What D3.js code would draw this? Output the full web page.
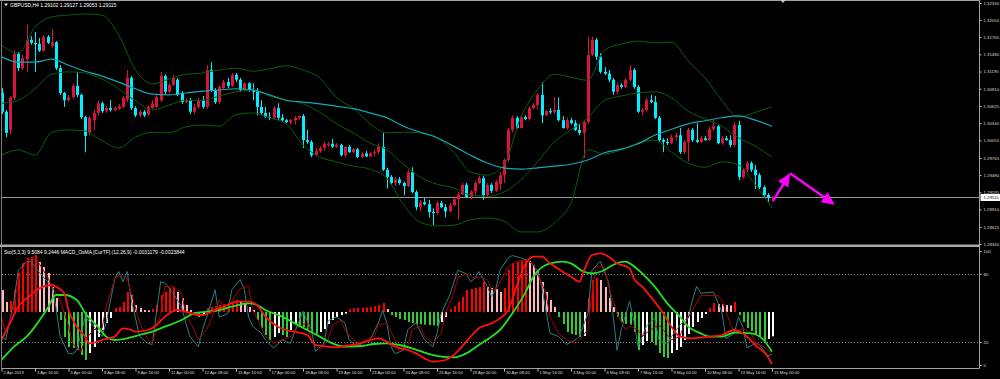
<!DOCTYPE html>
<html>
<head>
<meta charset="utf-8">
<script src="https://cdn.jsdelivr.net/npm/d3@7"></script>
<style>
  body { margin: 0; background: #000; }
  svg { display: block; }
</style>
</head>
<body>
<div id="chart"></div>
<script>
// GBPUSD H4, 2 Apr 08:00 .. 15 May 00:00 (185 bars)
const opens = [
  1.3084,1.3053,1.3023,1.3076,1.3149,1.3125,1.3140,1.3172,1.3167,1.3165,
  1.3154,1.3177,1.3162,1.3168,1.3125,1.3084,1.3072,1.3077,1.3096,1.3081,
  1.3044,1.3018,1.3039,1.3051,1.3067,1.3054,1.3059,1.3056,1.3058,1.3061,
  1.3073,1.3109,1.3059,1.3047,1.3053,1.3049,1.3059,1.3061,1.3072,1.3112,
  1.3086,1.3097,1.3106,1.3084,1.3069,1.3072,1.3053,1.3061,1.3071,1.3061,
  1.3122,1.3089,1.3069,1.3092,1.3102,1.3096,1.3114,1.3106,1.3089,1.3100,
  1.3089,1.3086,1.3061,1.3051,1.3044,1.3043,1.3059,1.3043,1.3039,1.3036,
  1.3039,1.3043,1.3046,1.3006,1.3003,1.2981,1.2988,1.2993,1.2998,1.3000,
  1.2995,1.2998,1.2981,1.2995,1.2986,1.2991,1.2978,1.2984,1.2979,1.2984,
  1.2986,1.2995,1.2957,1.2945,1.2935,1.2941,1.2935,1.2930,1.2953,1.2920,
  1.2895,1.2903,1.2900,1.2887,1.2885,1.2902,1.2895,1.2888,1.2898,1.2908,
  1.2916,1.2932,1.2912,1.2921,1.2935,1.2943,1.2915,1.2932,1.2922,1.2933,
  1.2948,1.2973,1.3023,1.3043,1.3026,1.3044,1.3041,1.3059,1.3064,1.3081,
  1.3047,1.3054,1.3052,1.3056,1.3039,1.3026,1.3039,1.3034,1.3023,1.3018,
  1.3036,1.3147,1.3172,1.3144,1.3119,1.3116,1.3106,1.3086,1.3097,1.3094,
  1.3106,1.3122,1.3094,1.3053,1.3056,1.3072,1.3069,1.3043,1.3006,1.3003,
  1.3001,1.3011,1.3014,1.2986,1.3003,1.3023,1.3006,1.3003,1.3009,1.3006,
  1.3024,1.3029,1.3001,1.3009,1.3006,1.2998,1.3031,1.2945,1.2957,1.2968,
  1.2957,1.2948,1.2928,1.2915,1.29102
];
const highs = [
  1.3092,1.3056,1.3079,1.3155,1.3152,1.3147,1.3197,1.3178,1.3185,1.3175,
  1.3180,1.3180,1.3190,1.3170,1.3130,1.3086,1.3081,1.3099,1.3119,1.3083,
  1.3046,1.3046,1.3056,1.3072,1.3070,1.3062,1.3072,1.3061,1.3066,1.3079,
  1.3122,1.3112,1.3062,1.3056,1.3056,1.3064,1.3072,1.3081,1.3119,1.3115,
  1.3100,1.3114,1.3109,1.3087,1.3076,1.3076,1.3066,1.3076,1.3079,1.3130,
  1.3135,1.3092,1.3097,1.3106,1.3109,1.3117,1.3117,1.3109,1.3102,1.3102,
  1.3100,1.3092,1.3072,1.3061,1.3052,1.3062,1.3067,1.3049,1.3041,1.3041,
  1.3046,1.3047,1.3049,1.3023,1.3006,1.2993,1.2996,1.3003,1.3003,1.3008,
  1.3001,1.3000,1.2996,1.2998,1.2993,1.2993,1.2986,1.2988,1.2986,1.2990,
  1.3001,1.3018,1.2960,1.2948,1.2945,1.2945,1.2937,1.2957,1.2961,1.2923,
  1.2907,1.2910,1.2907,1.2893,1.2905,1.2905,1.2900,1.2902,1.2912,1.2920,
  1.2935,1.2935,1.2923,1.2938,1.2947,1.2947,1.2935,1.2935,1.2940,1.2953,
  1.2976,1.3026,1.3047,1.3046,1.3047,1.3047,1.3062,1.3067,1.3084,1.3102,
  1.3056,1.3059,1.3077,1.3077,1.3046,1.3043,1.3043,1.3039,1.3033,1.3039,
  1.3177,1.3177,1.3175,1.3150,1.3127,1.3122,1.3109,1.3100,1.3100,1.3109,
  1.3130,1.3125,1.3097,1.3059,1.3076,1.3081,1.3079,1.3046,1.3009,1.3009,
  1.3015,1.3018,1.3026,1.3006,1.3026,1.3026,1.3034,1.3013,1.3013,1.3028,
  1.3039,1.3031,1.3013,1.3013,1.3014,1.3036,1.3038,1.2960,1.2971,1.2971,
  1.2965,1.2951,1.2931,1.2918,1.29127
];
const lows = [
  1.3049,1.3011,1.3016,1.3072,1.3120,1.3122,1.3119,1.3164,1.3119,1.3152,
  1.3152,1.3165,1.3158,1.3122,1.3081,1.3061,1.3069,1.3075,1.3077,1.3041,
  1.2986,1.3014,1.3023,1.3047,1.3051,1.3051,1.3053,1.3054,1.3056,1.3059,
  1.3069,1.3056,1.3044,1.3044,1.3044,1.3046,1.3057,1.3059,1.3069,1.3082,
  1.3084,1.3096,1.3079,1.3066,1.3067,1.3049,1.3049,1.3058,1.3058,1.3058,
  1.3086,1.3066,1.3066,1.3091,1.3092,1.3094,1.3102,1.3086,1.3087,1.3086,
  1.3072,1.3047,1.3047,1.3043,1.3039,1.3039,1.3039,1.3036,1.3034,1.3032,
  1.3032,1.3039,1.2993,1.3000,1.2978,1.2979,1.2985,1.2988,1.2995,1.2993,
  1.2993,1.2979,1.2978,1.2985,1.2984,1.2976,1.2976,1.2978,1.2978,1.2979,
  1.2983,1.2955,1.2926,1.2932,1.2930,1.2932,1.2915,1.2928,1.2918,1.2890,
  1.2888,1.2898,1.2878,1.2865,1.2883,1.2893,1.2878,1.2887,1.2897,1.2874,
  1.2915,1.2910,1.2908,1.2915,1.2933,1.2907,1.2913,1.2918,1.2920,1.2923,
  1.2935,1.2970,1.3019,1.3025,1.3025,1.3039,1.3038,1.3057,1.3057,1.3034,
  1.3046,1.3049,1.3049,1.3037,1.3025,1.3023,1.3032,1.3021,1.3014,1.2976,
  1.3033,1.3145,1.3139,1.3116,1.3114,1.3102,1.3081,1.3081,1.3091,1.3092,
  1.3104,1.3091,1.3051,1.3047,1.3053,1.3067,1.3041,1.3003,1.2986,1.2998,
  1.2999,1.3005,1.2983,1.2983,1.2971,1.3003,1.3001,1.3001,1.3005,1.3005,
  1.3021,1.2999,1.2998,1.3005,1.2994,1.2994,1.2940,1.2942,1.2953,1.2953,
  1.2925,1.2925,1.2910,1.2904,1.29053
];
const closes = [
  1.3053,1.3018,1.3076,1.3149,1.3125,1.3142,1.3172,1.3167,1.3165,1.3154,
  1.3177,1.3167,1.3168,1.3125,1.3084,1.3072,1.3077,1.3096,1.3081,1.3044,
  1.3013,1.3043,1.3051,1.3067,1.3054,1.3059,1.3056,1.3059,1.3062,1.3076,
  1.3109,1.3059,1.3047,1.3053,1.3047,1.3061,1.3067,1.3077,1.3112,1.3086,
  1.3097,1.3109,1.3081,1.3069,1.3072,1.3053,1.3061,1.3071,1.3061,1.3122,
  1.3089,1.3069,1.3094,1.3102,1.3096,1.3114,1.3106,1.3089,1.3100,1.3089,
  1.3086,1.3061,1.3051,1.3044,1.3043,1.3059,1.3043,1.3039,1.3036,1.3039,
  1.3043,1.3046,1.3006,1.3003,1.2981,1.2988,1.2993,1.3000,1.3000,1.2995,
  1.2998,1.2981,1.2995,1.2986,1.2991,1.2978,1.2984,1.2979,1.2984,1.2986,
  1.2995,1.2957,1.2945,1.2935,1.2941,1.2935,1.2930,1.2953,1.2920,1.2895,
  1.2903,1.2900,1.2887,1.2885,1.2902,1.2895,1.2888,1.2898,1.2908,1.2916,
  1.2932,1.2912,1.2921,1.2935,1.2943,1.2915,1.2932,1.2922,1.2937,1.2948,
  1.2973,1.3023,1.3043,1.3026,1.3044,1.3041,1.3059,1.3064,1.3081,1.3047,
  1.3054,1.3052,1.3056,1.3039,1.3026,1.3039,1.3034,1.3023,1.3018,1.3036,
  1.3147,1.3172,1.3144,1.3119,1.3116,1.3106,1.3086,1.3097,1.3094,1.3106,
  1.3122,1.3094,1.3053,1.3056,1.3072,1.3069,1.3043,1.3006,1.3003,1.3001,
  1.3011,1.3014,1.2986,1.3003,1.3023,1.3006,1.3003,1.3009,1.3006,1.3024,
  1.3029,1.3001,1.3009,1.3006,1.2998,1.3031,1.2945,1.2957,1.2968,1.2957,
  1.2948,1.2928,1.2915,1.29102,1.29115
];

// Bollinger bands and moving average, read every 4th bar
const bandBars = d3.range(0, 185, 4);
const bbUpper = [1.3163,1.3150,1.3193,1.3210,1.3213,1.3215,1.3213,1.3180,1.3122,1.3099,1.3107,1.3115,1.3117,1.3122,1.3125,1.3120,1.3124,1.3129,1.3122,1.3109,1.3076,1.3059,1.3033,1.3018,1.3019,1.3018,1.3010,1.2986,1.2953,1.2948,1.2965,1.3044,1.3089,1.3115,1.3110,1.3105,1.3155,1.3165,1.3170,1.3167,1.3168,1.3137,1.3109,1.3072,1.3044,1.3052,1.3061];
const bbMiddle = [1.3067,1.3072,1.3091,1.3115,1.3119,1.3117,1.3107,1.3091,1.3071,1.3056,1.3064,1.3072,1.3072,1.3079,1.3086,1.3089,1.3079,1.3072,1.3066,1.3052,1.3033,1.3018,1.3001,1.2990,1.2966,1.2945,1.2933,1.2927,1.2915,1.2913,1.2920,1.2940,1.2970,1.3003,1.3023,1.3043,1.3072,1.3079,1.3084,1.3086,1.3076,1.3054,1.3041,1.3029,1.3010,1.2996,1.2978];
const bbLower = [1.2981,1.2990,1.2981,1.3019,1.3023,1.3021,1.3005,1.2993,1.3011,1.3019,1.3018,1.3028,1.3031,1.3029,1.3048,1.3051,1.3043,1.3033,1.2998,1.2978,1.2970,1.2963,1.2958,1.2943,1.2899,1.2870,1.2864,1.2865,1.2874,1.2877,1.2872,1.2854,1.2854,1.2869,1.2902,1.2990,1.2983,1.2990,1.3001,1.3006,1.2986,1.2968,1.2961,1.2970,1.2965,1.2932,1.2894];
const maLine = [1.3144,1.3135,1.3135,1.3140,1.3130,1.3120,1.3112,1.3102,1.3091,1.3082,1.3081,1.3084,1.3087,1.3089,1.3091,1.3089,1.3081,1.3072,1.3069,1.3066,1.3062,1.3058,1.3051,1.3043,1.3029,1.3019,1.3010,1.2996,1.2981,1.2968,1.2960,1.2958,1.2960,1.2963,1.2966,1.2973,1.2985,1.2991,1.3000,1.3014,1.3024,1.3033,1.3038,1.3043,1.3046,1.3039,1.3029];

const priceTicks = [1.32330,1.32050,1.31765,1.31480,1.31195,1.30910,1.30625,1.30340,1.30055,1.29765,1.29480,1.29195,1.28910,1.28625,1.28340];
const lastPrice = 1.29115;

const labelBars = d3.range(0, 185, 8);
const timeLabels = ["2 Apr 2019","3 Apr 16:00","5 Apr 00:00","8 Apr 08:00","9 Apr 16:00","11 Apr 00:00","12 Apr 08:00","15 Apr 16:00","17 Apr 00:00","18 Apr 08:00","19 Apr 16:00","23 Apr 00:00","24 Apr 08:00","25 Apr 16:00","29 Apr 00:00","30 Apr 08:00","1 May 16:00","3 May 00:00","6 May 08:00","7 May 16:00","9 May 00:00","10 May 08:00","13 May 16:00","15 May 00:00"];

// MACD_OsMA histogram, one value per bar
const osmaBefore = 0.00080;
const osma = [
  0.00066,0.00030,0.00033,0.00066,0.00117,0.00147,0.00162,0.00165,0.00171,0.00150,
  0.00135,0.00117,0.00075,0.00042,-0.00024,-0.00075,-0.00105,-0.00108,-0.00114,-0.00129,
  -0.00144,-0.00123,-0.00105,-0.00075,-0.00054,-0.00033,-0.00018,0.00012,0.00015,0.00030,
  0.00060,0.00051,0.00021,0.00012,0.00006,0.00005,0.00009,0.00021,0.00051,0.00060,
  0.00072,0.00075,0.00060,0.00042,0.00021,0.00006,-0.00009,-0.00015,-0.00009,0.00012,
  0.00015,0.00017,0.00021,0.00024,0.00027,0.00030,0.00036,0.00030,0.00024,0.00015,
  0.00006,-0.00024,-0.00048,-0.00069,-0.00084,-0.00075,-0.00063,-0.00069,-0.00075,-0.00054,
  -0.00036,-0.00039,-0.00045,-0.00054,-0.00060,-0.00066,-0.00060,-0.00051,-0.00036,-0.00024,
  -0.00015,-0.00009,-0.00005,0.00009,0.00011,0.00012,0.00013,0.00014,0.00015,0.00018,
  0.00021,0.00027,0.00009,-0.00009,-0.00015,-0.00021,-0.00024,-0.00030,-0.00033,-0.00036,
  -0.00037,-0.00038,-0.00039,-0.00040,-0.00042,-0.00030,-0.00015,0.00009,0.00018,0.00030,
  0.00045,0.00066,0.00069,0.00072,0.00075,0.00090,0.00075,0.00072,0.00069,0.00060,
  0.00072,0.00126,0.00147,0.00150,0.00156,0.00159,0.00153,0.00141,0.00126,0.00090,
  0.00060,0.00036,0.00015,-0.00015,-0.00036,-0.00060,-0.00066,-0.00069,-0.00075,-0.00072,
  0.00042,0.00096,0.00102,0.00096,0.00075,0.00042,0.00015,-0.00015,-0.00030,-0.00036,
  -0.00038,-0.00060,-0.00114,-0.00099,-0.00087,-0.00090,-0.00099,-0.00123,-0.00135,-0.00138,
  -0.00123,-0.00114,-0.00105,-0.00084,-0.00066,-0.00045,-0.00030,-0.00018,-0.00006,0.00012,
  0.00027,0.00024,0.00023,0.00021,0.00020,0.00030,-0.00009,-0.00030,-0.00048,-0.00057,
  -0.00066,-0.00075,-0.00086,-0.00081,-0.00073
];

// MACD and signal lines of MACD_OsMA, read at selected bars
const macdBars = [0,2,4,7,9,12,13,15,16,18,20,21,23,24,27,29,31,32,35,37,39,42,44,47,48,51,54,56,59,61,63,66,68,70,73,75,78,80,82,85,87,90,92,94,97,99,101,103,106,108,111,114,117,119,121,123,125,127,129,131,134,136,138,139,141,143,145,147,150,151,153,155,158,160,162,165,169,172,175,177,180,183,184];
const macdVals = [-0.00168,-0.00068,0.00032,0.00102,0.00142,0.00162,0.00152,0.00112,0.00012,-0.00088,-0.00148,-0.00188,-0.00178,-0.00168,-0.00148,-0.00098,-0.00108,-0.00118,-0.00108,-0.00078,-0.00028,0.00012,0.00002,-0.00018,-0.00018,0.00012,0.00042,0.00062,0.00062,0.00042,-0.00028,-0.00088,-0.00108,-0.00118,-0.00138,-0.00198,-0.00208,-0.00212,-0.00204,-0.00192,-0.00178,-0.00158,-0.00178,-0.00208,-0.00228,-0.00248,-0.00278,-0.00298,-0.00288,-0.00258,-0.00178,-0.00098,-0.00068,-0.00038,0.00012,0.00152,0.00282,0.00332,0.00332,0.00292,0.00242,0.00212,0.00182,0.00242,0.00342,0.00352,0.00332,0.00292,0.00262,0.00202,0.00152,0.00092,-0.00008,-0.00088,-0.00148,-0.00158,-0.00148,-0.00138,-0.00108,-0.00128,-0.00198,-0.00268,-0.0031179];
const signalBars = [0,3,6,8,11,13,15,18,20,23,25,27,30,33,36,39,43,46,49,52,55,59,61,63,67,70,73,76,79,82,86,89,92,95,98,101,105,108,111,114,117,119,122,125,127,131,134,136,139,141,144,146,149,150,153,156,159,162,164,167,169,172,175,179,182,184];
const signalVals = [-0.00288,-0.00208,-0.00148,-0.00088,0.00022,0.00102,0.00102,0.00072,-0.00008,-0.00088,-0.00148,-0.00168,-0.00158,-0.00138,-0.00118,-0.00088,-0.00048,-0.00008,0.00002,0.00012,0.00032,0.00052,0.00042,0.00012,-0.00028,-0.00068,-0.00108,-0.00148,-0.00188,-0.00208,-0.00204,-0.00192,-0.00188,-0.00198,-0.00218,-0.00244,-0.00268,-0.00272,-0.00248,-0.00198,-0.00148,-0.00108,-0.00008,0.00112,0.00212,0.00292,0.00302,0.00292,0.00242,0.00232,0.00252,0.00282,0.00302,0.00292,0.00232,0.00152,0.00052,-0.00028,-0.00088,-0.00128,-0.00148,-0.00148,-0.00124,-0.00128,-0.00168,-0.0023844];

// Stochastic (5,3,3), read at selected bars
const stoMainBars = [0,1,3,4,6,7,8,10,12,13,14,16,17,18,19,20,22,24,25,27,28,29,30,31,33,35,36,38,39,41,43,44,45,47,48,49,51,52,54,55,57,58,59,60,62,63,65,67,69,70,72,74,75,77,78,80,82,83,85,86,88,90,91,92,93,94,96,97,99,101,103,104,105,107,108,109,111,112,113,114,116,117,118,119,121,122,124,126,128,129,130,131,133,135,137,138,140,141,143,145,146,147,148,150,151,152,154,156,157,159,160,162,164,165,166,167,170,172,173,175,176,177,178,180,181,183,184];
const stoMainVals = [26,22,57,83,91,91,86,77,69,51,25,10,10,13,28,42,34,25,37,75,82,73,82,57,25,19,18,73,72,63,51,37,25,16,31,42,66,42,45,66,75,66,42,34,28,22,15,22,19,29,47,31,12,19,39,42,37,22,16,19,22,37,48,37,16,10,13,31,37,22,16,28,45,61,72,83,80,73,76,82,69,60,66,83,94,96,94,91,83,69,48,28,25,18,22,25,45,83,91,72,45,13,31,56,39,16,34,41,22,18,25,35,42,57,69,63,64,47,23,28,42,34,15,19,18,8,9.5084];
const stoSigBars = [0,1,3,4,6,8,9,11,12,14,16,17,19,20,22,24,25,27,28,30,31,33,35,36,38,39,41,43,44,46,47,49,51,52,54,55,57,59,60,62,63,65,67,69,71,73,74,76,78,79,81,82,84,86,87,89,90,92,94,95,97,98,100,101,103,105,106,108,109,111,113,114,116,117,118,119,121,123,125,127,128,130,131,133,135,137,138,140,141,142,144,145,147,149,150,152,153,155,157,158,160,162,163,165,167,168,171,172,174,175,177,179,180,182,183,184];
const stoSigVals = [42,28,51,75,91,95,89,77,69,57,34,19,12,22,31,32,51,75,79,76,63,37,22,19,45,69,69,63,45,31,22,31,48,57,48,56,67,69,48,34,25,19,22,25,34,37,22,13,22,35,39,31,22,19,22,25,35,37,22,12,16,31,34,25,19,28,45,63,77,80,76,77,75,66,66,72,86,91,92,89,80,63,42,28,22,19,22,31,63,86,86,69,45,31,34,31,25,31,35,31,22,25,35,48,61,61,61,57,37,28,32,28,19,16,13,9.2446];
const stoTicks = [0, 20, 80, 100];
const stoLevels = [20, 80];

// hand-drawn arrow on the chart (bar index, price)
const arrowBars = [184.2, 188.3, 199];
const arrowPrices = [1.2905, 1.2951, 1.2899];

const width = 1000, height = 379;
const chartRight = 979.5;

const bull = '#dc143c', bear = '#00f0ff';

const svg = d3.select('#chart').append('svg')
  .attr('width', width).attr('height', height)
  .style('background', '#000')
  .style('font-family', '"Liberation Sans", Arial, sans-serif');

const x = d3.scaleLinear().domain([0, 184]).range([1.5, 772]);
const y = d3.scaleLinear().domain([1.2834, 1.3233]).range([244, 3]);
const ySto = d3.scaleLinear().domain([0, 100]).range([365, 251]);
const yOsma = d3.scaleLinear().domain([-0.0015, 0.0015]).range([362, 262]);
const yMacd = d3.scaleLinear().domain([-0.003, 0.003]).range([362, 262]);

const defs = svg.append('defs');
defs.append('clipPath').attr('id', 'clipMain')
  .append('rect').attr('x', 2).attr('y', 1).attr('width', chartRight - 2).attr('height', 243);
defs.append('clipPath').attr('id', 'clipSub')
  .append('rect').attr('x', 2).attr('y', 247).attr('width', chartRight - 2).attr('height', 121);

// ---------- main window ----------
const main = svg.append('g').attr('clip-path', 'url(#clipMain)');

// bid line
main.append('line')
  .attr('x1', 2).attr('x2', chartRight)
  .attr('y1', Math.round(y(lastPrice)) + 0.5).attr('y2', Math.round(y(lastPrice)) + 0.5)
  .attr('stroke', '#9a9a9a').attr('stroke-width', 1);

const bars = d3.range(closes.length);
const isBull = i => closes[i] >= opens[i];

main.selectAll('.wick').data(bars).join('line')
  .attr('class', 'wick')
  .attr('x1', i => Math.round(x(i)) + 0.5).attr('x2', i => Math.round(x(i)) + 0.5)
  .attr('y1', i => y(highs[i])).attr('y2', i => y(lows[i]))
  .attr('stroke', i => isBull(i) ? bull : bear).attr('stroke-width', 1);

main.selectAll('.body').data(bars).join('rect')
  .attr('class', 'body')
  .attr('x', i => Math.round(x(i)) - 1).attr('width', 3)
  .attr('y', i => y(Math.max(opens[i], closes[i])))
  .attr('height', i => Math.max(1, Math.abs(y(opens[i]) - y(closes[i]))))
  .attr('fill', i => isBull(i) ? bull : bear);

const bandPath = d3.line()
  .x((d, k) => x(bandBars[k]))
  .y(d => y(d))
  .curve(d3.curveMonotoneX);

[bbUpper, bbMiddle, bbLower].forEach(vals => {
  main.append('path').attr('d', bandPath(vals))
    .attr('fill', 'none').attr('stroke', '#0e5c0e').attr('stroke-width', 1);
});
main.append('path').attr('d', bandPath(maLine))
  .attr('fill', 'none').attr('stroke', '#14a8b2').attr('stroke-width', 1.2);

// arrow drawing
function drawArrow(g, p0, p1, color) {
  const dx = p1[0] - p0[0], dy = p1[1] - p0[1];
  const len = Math.hypot(dx, dy);
  const ux = dx / len, uy = dy / len;
  const nx = -uy, ny = ux;
  const headLen = 13, headW = 6;
  const bx = p1[0] - ux * headLen, by = p1[1] - uy * headLen;
  g.append('line')
    .attr('x1', p0[0]).attr('y1', p0[1]).attr('x2', bx + ux).attr('y2', by + uy)
    .attr('stroke', color).attr('stroke-width', 2.4);
  g.append('path')
    .attr('d', `M${p1[0]},${p1[1]}L${bx + nx * headW},${by + ny * headW}L${bx - nx * headW},${by - ny * headW}Z`)
    .attr('fill', color);
}
const arrowPts = arrowBars.map((b, k) => [x(b), y(arrowPrices[k])]);
const arrows = svg.append('g');
drawArrow(arrows, arrowPts[0], arrowPts[1], '#ff00ff');
drawArrow(arrows, arrowPts[1], arrowPts[2], '#ff00ff');

// header text
svg.append('path').attr('d', 'M4,3.5L8,3.5L6,6.3Z').attr('fill', '#e0e0e0');
svg.append('text').attr('x', 10).attr('y', 6.8)
  .attr('fill', '#ffffff').style('font-size', '5px')
  .text('GBPUSD,H4  1.29102 1.29127 1.29053 1.29115');

// ---------- sub window ----------
const sub = svg.append('g').attr('clip-path', 'url(#clipSub)');

sub.selectAll('.lvl').data(stoLevels).join('line')
  .attr('class', 'lvl')
  .attr('x1', 2).attr('x2', chartRight)
  .attr('y1', d => Math.round(ySto(d)) + 0.5).attr('y2', d => Math.round(ySto(d)) + 0.5)
  .attr('stroke', '#8a8a8a').attr('stroke-dasharray', '1,2');

const osmaColor = i => {
  const v = osma[i];
  const prev = i === 0 ? osmaBefore : osma[i - 1];
  if (v >= 0) return v >= prev ? '#ff0000' : '#ffb6c1';
  return v < prev ? '#32cd32' : '#ffffff';
};
sub.selectAll('.hist').data(bars).join('rect')
  .attr('class', 'hist')
  .attr('x', i => Math.round(x(i)))
  .attr('width', 2)
  .attr('y', i => Math.min(yOsma(0), yOsma(osma[i])))
  .attr('height', i => Math.max(1, Math.abs(yOsma(osma[i]) - yOsma(0))))
  .attr('fill', osmaColor);

const stoPath = (barsArr) => d3.line()
  .x((d, k) => x(barsArr[k]))
  .y(d => ySto(d));

sub.append('path').attr('d', stoPath(stoMainBars)(stoMainVals))
  .attr('fill', 'none').attr('stroke', '#2b7f86').attr('stroke-width', 1);
sub.append('path').attr('d', stoPath(stoSigBars)(stoSigVals))
  .attr('fill', 'none').attr('stroke', '#a80000').attr('stroke-width', 1);

const macdPath = (barsArr) => d3.line()
  .x((d, k) => x(barsArr[k]))
  .y(d => yMacd(d))
  .curve(d3.curveMonotoneX);

sub.append('path').attr('d', macdPath(signalBars)(signalVals))
  .attr('fill', 'none').attr('stroke', '#22e022').attr('stroke-width', 1.8);
sub.append('path').attr('d', macdPath(macdBars)(macdVals))
  .attr('fill', 'none').attr('stroke', '#ff1010').attr('stroke-width', 1.8);

svg.append('text').attr('x', 4).attr('y', 253.6)
  .attr('fill', '#ffffff').style('font-size', '5px')
  .text('Sto(5,3,3) 9.5084 9.2446  MACD_OsMA [CurTF] (12,26,9) -0.0031179 -0.0023844');

// ---------- frames ----------
const frame = svg.append('g').attr('fill', 'none');
frame.append('line').attr('x1', 0).attr('x2', chartRight).attr('y1', 0.5).attr('y2', 0.5).attr('stroke', '#a0a0a0');
frame.append('line').attr('x1', 1.5).attr('x2', 1.5).attr('y1', 0).attr('y2', 368.5).attr('stroke', '#808080');
frame.append('line').attr('x1', chartRight).attr('x2', chartRight).attr('y1', 0).attr('y2', 368.5).attr('stroke', '#a0a0a0');
svg.append('rect').attr('x', 0).attr('y', 244.5).attr('width', chartRight).attr('height', 2.5).attr('fill', '#a8a8a8');
frame.append('line').attr('x1', 1.5).attr('x2', chartRight).attr('y1', 368.5).attr('y2', 368.5).attr('stroke', '#a0a0a0');

// chart shift marker
svg.append('path').attr('d', 'M780.5,0L785.5,0L783,3Z').attr('fill', '#c8c8c8');

// ---------- axes ----------
const priceAxis = svg.append('g').attr('transform', `translate(${chartRight},0)`)
  .call(d3.axisRight(y).tickValues(priceTicks).tickSize(2).tickFormat(d3.format('.5f')));
priceAxis.select('.domain').remove();
priceAxis.selectAll('line').attr('stroke', '#c0c0c0');
priceAxis.selectAll('text')
  .attr('x', 4).attr('fill', '#dcdcdc').style('font-size', '4.3px');

// current price label
const lp = Math.round(y(lastPrice)) + 0.5;
svg.append('rect').attr('x', chartRight + 1).attr('y', lp - 3.5).attr('width', 20).attr('height', 7).attr('fill', '#ffffff');
svg.append('text').attr('x', chartRight + 4).attr('y', lp).attr('dy', '0.34em')
  .attr('fill', '#000').style('font-size', '4.3px').text(d3.format('.5f')(lastPrice));

const stoAxis = svg.append('g').attr('transform', `translate(${chartRight},0)`)
  .call(d3.axisRight(ySto).tickValues(stoTicks).tickSize(2));
stoAxis.select('.domain').remove();
stoAxis.selectAll('line').attr('stroke', '#c0c0c0');
stoAxis.selectAll('text')
  .attr('x', 4).attr('fill', '#dcdcdc').style('font-size', '4.3px');

const timeAxis = svg.append('g').attr('transform', 'translate(0,368.5)')
  .call(d3.axisBottom(x).tickValues(labelBars).tickSize(3).tickFormat((d, i) => timeLabels[i]));
timeAxis.select('.domain').remove();
timeAxis.selectAll('line').attr('stroke', '#c0c0c0');
timeAxis.selectAll('text')
  .attr('text-anchor', 'start').attr('x', 1.5).attr('y', 2.6)
  .attr('fill', '#dcdcdc').style('font-size', '4.2px');
</script>
</body>
</html>
